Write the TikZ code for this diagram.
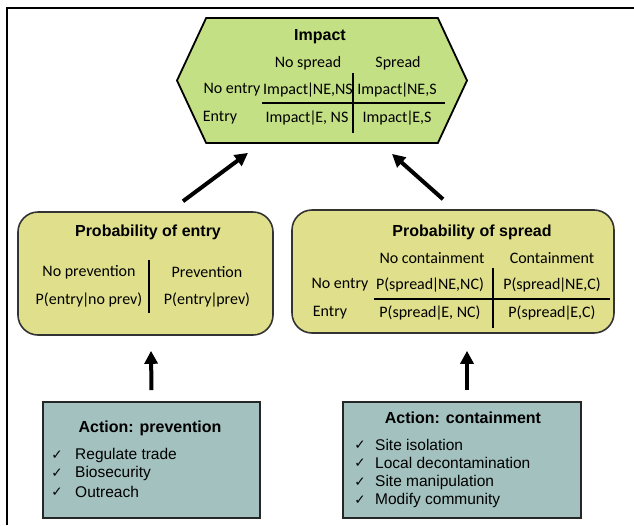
\documentclass[tikz,border=0pt]{standalone}
\usepackage{fontspec}
\setmainfont{Carlito}
\newfontfamily\arialfont{Liberation Sans}
\newfontfamily\symfont{DejaVu Sans}
\usetikzlibrary{arrows.meta}
\usetikzlibrary{shapes.symbols}

\definecolor{hexgreen}{RGB}{196,224,132}
\definecolor{probyellow}{RGB}{224,224,140}
\definecolor{actteal}{RGB}{163,193,190}
\newcommand\vb{\kern-1.3pt|\kern-1.3pt}

\begin{document}
\begin{tikzpicture}[x=1pt,y=-1pt,
  txt/.style={font=\fontsize{16}{19}\selectfont, inner sep=0pt},
  ttl/.style={font=\arialfont\bfseries\fontsize{16}{19}\selectfont, inner sep=0pt},
  item/.style={font=\arialfont\fontsize{15.5}{18}\selectfont, anchor=west, inner sep=0pt},
  chk/.style={font=\symfont\fontsize{13.5}{15}\selectfont, inner sep=0pt},
  hexbox/.style={signal, signal to=east and west, signal pointer angle=130,
    draw=black, line width=1.8pt, fill=hexgreen, minimum width=290pt,
    minimum height=125pt, inner sep=0pt},
  probbox/.style={draw=black!80, line width=1.6pt, fill=probyellow, rounded corners=20pt},
  actbox/.style={draw=black!85, line width=1.6pt, fill=actteal},
  rule/.style={line width=1.2pt},
  bigarrow/.style={line width=4pt, -{Triangle[length=13pt,width=13pt]}}]
\useasboundingbox (0,0) rectangle (634,525);
\draw[line width=1.2pt] (7,525) -- (7,8) -- (634,8); % frame

% impact
\node[hexbox] (impact) at (322,80.5) {};
\node[ttl] (impactttl) at (320,37) {Impact};
\node[txt] (ns) at (308,63) {No spread};
\node[txt] (sp) at (398,63) {Spread};
\node[txt] (ine) at (232,90) {No entry};
\node[txt] (ie) at (220,118) {Entry};
\node[txt] (i11) at (308,90) {Impact\vb NE,NS};
\node[txt] (i12) at (397,90) {Impact\vb NE,S};
\node[txt] (i21) at (307,118) {Impact\vb E, NS};
\node[txt] (i22) at (397,118) {Impact\vb E,S};
\draw[rule] (262,103) -- (445,103);
\draw[rule] (353,73) -- (353,133);

% probability of entry
\node[probbox, minimum width=255pt, minimum height=123pt] (entry) at (145.5,273.5) {};
\node[ttl] (entryttl) at (148,232) {Probability of entry};
\node[txt] (noprev) at (89,272) {No prevention};
\node[txt] (prev) at (207,272) {Prevention};
\node[txt] (pnoprev) at (89,300) {P(entry\vb no prev)};
\node[txt] (pprev) at (207,300) {P(entry\vb prev)};
\draw[rule] (149,260) -- (149,313);

% probability of spread
\node[probbox, minimum width=322pt, minimum height=123pt] (spread) at (453,271.5) {};
\node[ttl] (spreadttl) at (472,232) {Probability of spread};
\node[txt] (nocont) at (432,258) {No containment};
\node[txt] (cont) at (552,258) {Containment};
\node[txt] (sne) at (340,285) {No entry};
\node[txt] (se) at (330,313) {Entry};
\node[txt] (s11) at (430,285) {P(spread\vb NE,NC)};
\node[txt] (s12) at (552,285) {P(spread\vb NE,C)};
\node[txt] (s21) at (430,313) {P(spread\vb E, NC)};
\node[txt] (s22) at (552,313) {P(spread\vb E,C)};
\draw[rule] (374,299) -- (610,299);
\draw[rule] (493,268) -- (493,328);

% actions
\node[actbox, minimum width=217pt, minimum height=116pt] (prevent) at (151.5,460) {};
\node[ttl] (preventttl) at (150,428) {Action: prevention};
\foreach \y/\t [count=\i] in {455/Regulate trade, 473/Biosecurity, 492/Outreach}
{
\node[chk] (pchk\i) at (57,\y) {✓};
\node[item] (pitem\i) at (75,\y) {\t};
}
\node[actbox, minimum width=238pt, minimum height=116pt] (contain) at (462,460) {};
\node[ttl] (containttl) at (463,418) {Action: containment};
\foreach \y/\t [count=\i] in {445/Site isolation, 463/Local decontamination,
  482/Site manipulation, 500/Modify community}
{
\node[chk] (cchk\i) at (360,\y) {✓};
\node[item] (citem\i) at (375,\y) {\t};
}

% arrows
\draw[bigarrow] ([shift={(0,-11)}]prevent.north) -- ([shift={(5.5,15)}]entry.south);
\draw[bigarrow] ([shift={(5,-11)}]contain.north) -- ([shift={(14,17)}]spread.south);
\draw[bigarrow] ([shift={(37.5,-10)}]entry.north) -- ([shift={(-74,9)}]impact.south);
\draw[bigarrow] ([shift={(-10,-10)}]spread.north) -- ([shift={(70,10)}]impact.south);
\end{tikzpicture}
\end{document}
